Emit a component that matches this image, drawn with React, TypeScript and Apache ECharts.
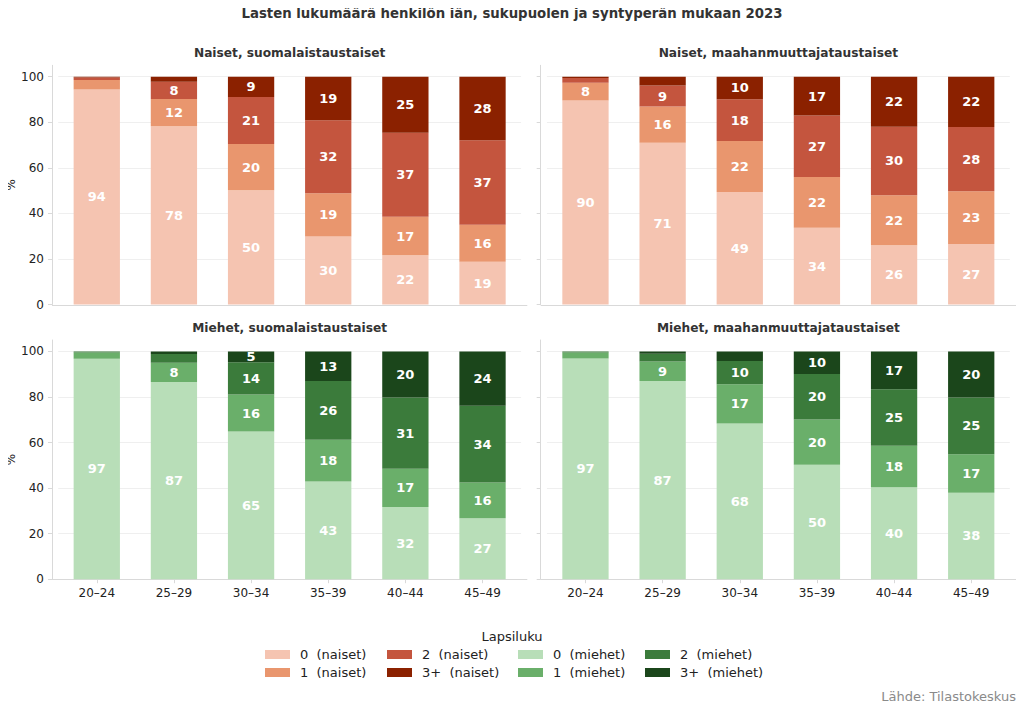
import React, { useEffect, useRef } from "react";
import * as echarts from "echarts";

const categories = ["20–24", "25–29", "30–34", "35–39", "40–44", "45–49"];

// Naiset, suomalaistaustaiset (%)
const naisetSuomi0 = [94.4, 78.2, 50.2, 29.8, 21.6, 18.8];
const naisetSuomi1 = [4.1, 12.0, 20.2, 19.0, 16.9, 16.2];
const naisetSuomi2 = [1.1, 7.6, 20.7, 32.1, 36.9, 37.1];
const naisetSuomi3 = [0.4, 2.2, 8.9, 19.1, 24.6, 27.9];

// Naiset, maahanmuuttajataustaiset (%)
const naisetMaahan0 = [89.6, 71.0, 49.4, 33.7, 26.0, 26.6];
const naisetMaahan1 = [7.7, 15.9, 22.4, 22.3, 22.0, 23.1];
const naisetMaahan2 = [2.1, 9.2, 18.3, 27.0, 30.0, 28.2];
const naisetMaahan3 = [0.6, 3.9, 9.9, 17.0, 22.0, 22.1];

// Miehet, suomalaistaustaiset (%)
const miehetSuomi0 = [96.8, 86.6, 64.8, 42.9, 31.7, 26.8];
const miehetSuomi1 = [2.7, 8.4, 16.3, 18.3, 16.8, 15.7];
const miehetSuomi2 = [0.4, 3.9, 14.1, 25.8, 31.3, 33.6];
const miehetSuomi3 = [0.1, 1.1, 4.8, 13.0, 20.2, 23.9];

// Miehet, maahanmuuttajataustaiset (%)
const miehetMaahan0 = [96.9, 87.0, 68.4, 50.2, 40.4, 38.0];
const miehetMaahan1 = [2.6, 8.6, 17.2, 19.9, 18.2, 16.9];
const miehetMaahan2 = [0.4, 3.4, 10.2, 20.0, 24.8, 24.9];
const miehetMaahan3 = [0.1, 1.0, 4.2, 9.9, 16.6, 20.2];

const naisetNames = ["0  (naiset)", "1  (naiset)", "2  (naiset)", "3+  (naiset)"];
const miehetNames = ["0  (miehet)", "1  (miehet)", "2  (miehet)", "3+  (miehet)"];
const naisetColors = ["#f5c4b1", "#e9966e", "#c4553e", "#8b2100"];
const miehetColors = ["#b8deb8", "#6aaf6a", "#3b7b3b", "#1b461b"];

const panelTitles = [
  "Naiset, suomalaistaustaiset",
  "Naiset, maahanmuuttajataustaiset",
  "Miehet, suomalaistaustaiset",
  "Miehet, maahanmuuttajataustaiset",
];
const yTicks = [0, 20, 40, 60, 80, 100];

const FONT = "DejaVu Sans";

export default function App() {
  const ref = useRef<HTMLDivElement>(null);

  useEffect(() => {
    if (!ref.current) return;
    const chart = echarts.init(ref.current, null, { renderer: "svg" });

    const panels = [
      { data: [naisetSuomi0, naisetSuomi1, naisetSuomi2, naisetSuomi3], names: naisetNames, colors: naisetColors },
      { data: [naisetMaahan0, naisetMaahan1, naisetMaahan2, naisetMaahan3], names: naisetNames, colors: naisetColors },
      { data: [miehetSuomi0, miehetSuomi1, miehetSuomi2, miehetSuomi3], names: miehetNames, colors: miehetColors },
      { data: [miehetMaahan0, miehetMaahan1, miehetMaahan2, miehetMaahan3], names: miehetNames, colors: miehetColors },
    ];

    // spine positions (axis frame) and inner category band area
    const spineL = [52, 540.7];
    const spineW = 475.3;
    const inset = 6.2;
    const gt = [65.3, 340];
    const gh = 239.2;

    const grid = [0, 1, 2, 3].map((i) => ({
      left: spineL[i % 2] + inset,
      top: gt[Math.floor(i / 2)],
      width: spineW - 2 * inset,
      height: gh,
      containLabel: false,
    }));

    const xAxis = [0, 1, 2, 3].map((i) => ({
      type: "category",
      gridIndex: i,
      data: categories,
      boundaryGap: true,
      splitLine: { show: false },
      axisLine: { show: false },
      axisTick: {
        show: i >= 2,
        alignWithLabel: true,
        length: 4,
        lineStyle: { color: "#d9d9d9" },
      },
      axisLabel: {
        show: i >= 2,
        color: "#222",
        fontFamily: FONT,
        fontSize: 12,
        margin: 8,
      },
    }));

    const yAxis = [0, 1, 2, 3].map((i) => ({
      type: "value",
      gridIndex: i,
      min: 0,
      max: 105,
      interval: 20,
      offset: inset,
      name: i % 2 === 0 ? "%" : "",
      nameLocation: "middle",
      nameGap: 34,
      nameRotate: 90,
      nameTextStyle: { color: "#222", fontFamily: FONT, fontSize: 12 },
      axisLine: { show: true, lineStyle: { color: "#d9d9d9", width: 1 } },
      axisTick: {
        show: true,
        customValues: yTicks,
        length: 4,
        lineStyle: { color: "#d9d9d9" },
      },
      splitLine: {
        show: true,
        lineStyle: {
          color: ["rgba(0,0,0,0)", "#efefef", "#efefef", "#efefef", "#efefef", "#efefef", "rgba(0,0,0,0)"],
          width: 1,
        },
      },
      axisLabel: {
        show: i % 2 === 0,
        customValues: yTicks,
        color: "#222",
        fontFamily: FONT,
        fontSize: 12,
        margin: 8,
      },
    }));

    const series: any[] = [];
    panels.forEach((p, i) => {
      p.data.forEach((arr, k) => {
        series.push({
          type: "bar",
          name: p.names[k],
          xAxisIndex: i,
          yAxisIndex: i,
          stack: "s" + i,
          barWidth: "60%",
          itemStyle: { color: p.colors[k] },
          label: {
            show: true,
            position: "inside",
            color: "#fff",
            fontFamily: FONT,
            fontWeight: "bold",
            fontSize: 13,
            formatter: (pp: any) => {
              const v = pp.value;
              return v >= 4.5 ? String(Math.round(v)) : "";
            },
          },
          data: arr,
        });
      });
    });

    const legendCols = [
      { left: 265, items: [naisetNames[0], naisetNames[1]] },
      { left: 387, items: [naisetNames[2], naisetNames[3]] },
      { left: 518, items: [miehetNames[0], miehetNames[1]] },
      { left: 645, items: [miehetNames[2], miehetNames[3]] },
    ];
    const legend = legendCols.map((c) => ({
      left: c.left,
      top: 648,
      orient: "vertical",
      itemWidth: 25,
      itemHeight: 9,
      itemGap: 5,
      icon: "rect",
      selectedMode: false,
      padding: 0,
      data: c.items,
      textStyle: {
        color: "#222",
        fontFamily: FONT,
        fontSize: 13,
        padding: [0, 0, 0, 5],
      },
    }));

    const centers = [spineL[0] + spineW / 2, spineL[1] + spineW / 2];
    const graphic: any[] = [
      {
        type: "text",
        x: 512,
        y: 13,
        style: {
          text: "Lasten lukumäärä henkilön iän, sukupuolen ja syntyperän mukaan 2023",
          align: "center",
          verticalAlign: "middle",
          font: `bold 13.3px "${FONT}"`,
          fill: "#333",
        },
      },
      {
        type: "text",
        x: 512,
        y: 636,
        style: {
          text: "Lapsiluku",
          align: "center",
          verticalAlign: "middle",
          font: `13px "${FONT}"`,
          fill: "#222",
        },
      },
      {
        type: "text",
        x: 1016,
        y: 696,
        style: {
          text: "Lähde: Tilastokeskus",
          align: "right",
          verticalAlign: "middle",
          font: `13px "${FONT}"`,
          fill: "#8a8a8a",
        },
      },
    ];
    panelTitles.forEach((t, i) => {
      graphic.push({
        type: "text",
        x: centers[i % 2],
        y: i < 2 ? 53 : 328,
        style: {
          text: t,
          align: "center",
          verticalAlign: "middle",
          font: `bold 12.2px "${FONT}"`,
          fill: "#333",
        },
      });
    });
    // bottom spines spanning the full axis frame
    [0, 1, 2, 3].forEach((i) => {
      const y = Math.round(gt[Math.floor(i / 2)] + gh) + 0.5;
      graphic.push({
        type: "line",
        shape: { x1: spineL[i % 2], y1: y, x2: spineL[i % 2] + spineW, y2: y },
        style: { stroke: "#d9d9d9", lineWidth: 1 },
        z: 1,
      });
    });

    chart.setOption({
      animation: false,
      backgroundColor: "#fff",
      textStyle: { fontFamily: FONT },
      grid,
      xAxis,
      yAxis,
      series,
      legend,
      graphic,
    } as any);

    return () => chart.dispose();
  }, []);

  return <div ref={ref} style={{ width: 1024, height: 710, margin: -8 }} />;
}
